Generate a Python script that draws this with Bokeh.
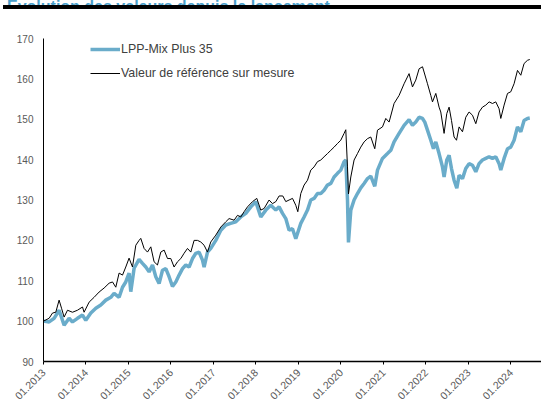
from bokeh.plotting import figure
from bokeh.models import FixedTicker, Legend, LegendItem, Div
from bokeh.layouts import column
from bokeh.embed import file_html
from bokeh.resources import INLINE

TITLE = "Evolution des valeurs depuis le lancement"
LPP_NAME = "LPP-Mix Plus 35"
REF_NAME = "Valeur de référence sur mesure"

# dates as fractional years, values indexed to 100 at launch
ref_t = [2013.000, 2013.132, 2013.212, 2013.289, 2013.367, 2013.424, 2013.485, 2013.565, 2013.682, 2013.800,
         2013.918, 2013.955, 2014.073, 2014.191, 2014.308, 2014.426, 2014.544, 2014.624, 2014.701, 2014.779,
         2014.859, 2014.936, 2015.014, 2015.094, 2015.172, 2015.249, 2015.289, 2015.367, 2015.447, 2015.525,
         2015.602, 2015.682, 2015.760, 2015.838, 2015.918, 2015.995, 2016.073, 2016.153, 2016.231, 2016.308,
         2016.388, 2016.466, 2016.544, 2016.624, 2016.701, 2016.779, 2016.859, 2016.936, 2017.054, 2017.172,
         2017.289, 2017.367, 2017.485, 2017.565, 2017.642, 2017.720, 2017.800, 2017.918, 2018.019, 2018.113,
         2018.191, 2018.308, 2018.388, 2018.466, 2018.544, 2018.631, 2018.701, 2018.779, 2018.859, 2018.936,
         2018.984, 2019.054, 2019.132, 2019.212, 2019.289, 2019.367, 2019.447, 2019.525, 2019.602, 2019.682,
         2019.760, 2019.838, 2019.918, 2019.995, 2020.073, 2020.113, 2020.153, 2020.176, 2020.231, 2020.308,
         2020.388, 2020.466, 2020.544, 2020.624, 2020.701, 2020.795, 2020.859, 2020.976, 2021.054, 2021.132,
         2021.249, 2021.367, 2021.485, 2021.602, 2021.682, 2021.760, 2021.838, 2021.918, 2021.955, 2022.035,
         2022.113, 2022.153, 2022.231, 2022.308, 2022.348, 2022.426, 2022.489, 2022.544, 2022.600, 2022.661,
         2022.718, 2022.779, 2022.859, 2022.936, 2023.014, 2023.094, 2023.172, 2023.249, 2023.329, 2023.407,
         2023.485, 2023.565, 2023.642, 2023.720, 2023.760, 2023.838, 2023.918, 2023.995, 2024.073, 2024.153,
         2024.231, 2024.308, 2024.388, 2024.442]
ref_v = [100.0, 100.7, 102.0, 102.2, 105.2, 103.2, 101.0, 102.7, 102.2, 102.7,
         103.5, 102.2, 104.7, 105.9, 107.2, 108.2, 109.4, 109.7, 108.4, 111.9,
         111.4, 113.4, 115.6, 113.4, 118.8, 120.0, 120.5, 118.0, 117.1, 118.4,
         114.7, 113.9, 117.1, 117.6, 115.5, 115.5, 113.4, 114.7, 115.5, 116.8,
         118.0, 117.1, 120.0, 120.0, 119.6, 118.8, 117.1, 119.6, 121.3, 123.3,
         124.6, 125.4, 125.0, 126.2, 125.8, 127.1, 128.3, 129.6, 130.4, 127.5,
         127.9, 130.0, 129.1, 129.6, 131.0, 131.0, 129.6, 130.0, 130.4, 128.7,
         127.1, 131.6, 133.7, 134.9, 137.4, 138.2, 139.5, 139.9, 140.7, 141.5,
         142.3, 143.1, 144.0, 144.8, 146.5, 147.4, 138.2, 131.5, 135.7, 139.9,
         141.5, 143.1, 144.4, 145.2, 145.6, 142.7, 147.3, 148.1, 150.2, 149.3,
         153.9, 155.9, 158.8, 161.3, 158.0, 159.7, 162.5, 163.0, 161.7, 158.8,
         155.9, 154.3, 156.4, 153.0, 151.8, 146.5, 151.4, 153.0, 149.7, 145.6,
         144.8, 148.1, 146.9, 150.5, 151.8, 151.0, 148.9, 151.8, 153.0, 153.5,
         154.3, 153.9, 154.3, 152.6, 150.2, 153.5, 156.4, 156.8, 158.8, 162.1,
         160.9, 163.8, 164.6, 164.8]

lpp_t = [2013.000, 2013.132, 2013.249, 2013.367, 2013.485, 2013.602, 2013.682, 2013.800, 2013.918, 2013.995,
         2014.113, 2014.231, 2014.348, 2014.466, 2014.584, 2014.661, 2014.779, 2014.859, 2014.936, 2015.014,
         2015.054, 2015.132, 2015.249, 2015.329, 2015.407, 2015.485, 2015.565, 2015.642, 2015.720, 2015.800,
         2015.878, 2015.955, 2016.035, 2016.113, 2016.191, 2016.271, 2016.348, 2016.426, 2016.506, 2016.584,
         2016.661, 2016.741, 2016.779, 2016.859, 2016.936, 2017.054, 2017.172, 2017.289, 2017.402, 2017.525,
         2017.642, 2017.760, 2017.878, 2017.995, 2018.113, 2018.231, 2018.348, 2018.466, 2018.544, 2018.624,
         2018.701, 2018.779, 2018.859, 2018.936, 2019.054, 2019.132, 2019.212, 2019.289, 2019.367, 2019.447,
         2019.525, 2019.602, 2019.682, 2019.760, 2019.838, 2019.918, 2019.995, 2020.073, 2020.113, 2020.153,
         2020.176, 2020.231, 2020.308, 2020.388, 2020.466, 2020.544, 2020.624, 2020.701, 2020.795, 2020.859,
         2020.976, 2021.094, 2021.172, 2021.249, 2021.367, 2021.485, 2021.602, 2021.682, 2021.760, 2021.838,
         2021.918, 2021.972, 2022.035, 2022.113, 2022.176, 2022.231, 2022.308, 2022.388, 2022.426, 2022.489,
         2022.544, 2022.600, 2022.661, 2022.725, 2022.779, 2022.859, 2022.936, 2023.014, 2023.094, 2023.172,
         2023.249, 2023.329, 2023.407, 2023.485, 2023.565, 2023.642, 2023.720, 2023.760, 2023.838, 2023.918,
         2023.995, 2024.073, 2024.153, 2024.231, 2024.308, 2024.388, 2024.442]
lpp_v = [100.0, 99.8, 100.7, 102.7, 99.0, 100.7, 99.8, 100.7, 101.5, 100.2,
         102.0, 103.2, 104.0, 105.2, 105.9, 106.9, 105.9, 108.4, 109.7, 111.9,
         107.3, 113.1, 115.3, 114.3, 113.4, 112.2, 113.9, 111.0, 109.3, 112.6,
         113.0, 111.0, 108.6, 109.7, 111.4, 113.0, 113.9, 113.4, 115.5, 116.8,
         117.1, 115.1, 113.4, 117.1, 118.0, 120.0, 122.5, 123.8, 124.2, 124.6,
         125.8, 126.7, 128.3, 129.6, 125.8, 127.5, 128.7, 127.5, 128.3, 126.7,
         125.4, 122.5, 122.9, 120.4, 124.2, 125.8, 127.5, 130.0, 130.4, 131.6,
         131.6, 132.4, 133.7, 134.1, 135.7, 136.6, 137.4, 139.5, 139.9, 130.0,
         119.5, 127.5, 130.0, 131.6, 133.0, 134.1, 135.3, 135.9, 133.4, 137.4,
         140.3, 141.5, 142.3, 144.4, 146.5, 148.5, 149.9, 148.5, 149.3, 150.5,
         150.2, 149.3, 147.3, 144.8, 142.7, 144.4, 141.5, 138.2, 135.7, 139.9,
         141.1, 137.8, 134.9, 132.9, 136.1, 135.3, 137.8, 139.0, 138.6, 137.0,
         139.0, 139.9, 140.3, 140.7, 140.3, 140.7, 139.0, 137.4, 140.3, 142.7,
         143.1, 144.8, 148.1, 146.9, 149.7, 150.2, 150.3]

tick_years = [2013, 2014, 2015, 2016, 2017, 2018, 2019, 2020, 2021, 2022, 2023, 2024]
tick_labels = ["01." + str(y) for y in tick_years]
y_ticks = [90, 100, 110, 120, 130, 140, 150, 160, 170]

BLUE = "#6aacca"
FONT = "Liberation Sans"

header = Div(
    text=('<div style="margin-top:-11px;padding-left:4px;color:#4a9fcb;font:bold 16px \'Liberation Sans\';'
          'line-height:16px;white-space:nowrap">' + TITLE + '</div>'),
    width=538, height=9, margin=(0, 0, 0, 3),
    styles={"overflow": "hidden", "border-bottom": "4px solid black", "box-sizing": "border-box"},
)

p = figure(width=541, height=396, x_range=(2013, 2024.718), y_range=(90, 170),
           output_backend="svg", toolbar_location=None, margin=0,
           min_border_left=43, min_border_right=0, min_border_top=29, min_border_bottom=43)
p.outline_line_color = None
p.grid.visible = False
p.background_fill_color = "white"

r_lpp = p.line(lpp_t, lpp_v, line_color=BLUE, line_width=3.5)
r_ref = p.line(ref_t, ref_v, line_color="black", line_width=1)

p.xaxis.ticker = FixedTicker(ticks=tick_years)
p.xaxis.major_label_overrides = {y: l for y, l in zip(tick_years, tick_labels)}
p.xaxis.major_label_orientation = 0.785398
p.xaxis.minor_tick_line_color = None
p.xaxis.major_tick_in = 0
p.xaxis.major_tick_out = 3
p.xaxis.axis_line_color = "black"
p.xaxis.axis_line_width = 1.5
p.xaxis.major_tick_line_color = "black"
p.xaxis.major_label_standoff = 6
p.xaxis.major_label_text_font_size = "10.5px"

p.yaxis.ticker = FixedTicker(ticks=y_ticks)
p.yaxis.minor_tick_line_color = None
p.yaxis.major_tick_in = 0
p.yaxis.major_tick_out = 0
p.yaxis.axis_line_color = "black"
p.yaxis.major_label_standoff = 10
p.yaxis.major_label_text_font_size = "10px"

for ax in (p.xaxis, p.yaxis):
    ax.major_label_text_font = FONT
    ax.major_label_text_color = "#595959"

legend = Legend(items=[LegendItem(label=LPP_NAME, renderers=[r_lpp]),
                       LegendItem(label=REF_NAME, renderers=[r_ref])],
                location=(47, 279), orientation="vertical",
                border_line_color=None, background_fill_alpha=0,
                label_text_font=FONT, label_text_font_size="12.4px", label_text_color="#404040",
                glyph_width=30, glyph_height=18, label_height=18, label_standoff=1,
                spacing=6, padding=0, margin=0)
p.add_layout(legend)

layout = column(header, p, spacing=0)
open("out.html", "w").write(file_html(layout, INLINE))
